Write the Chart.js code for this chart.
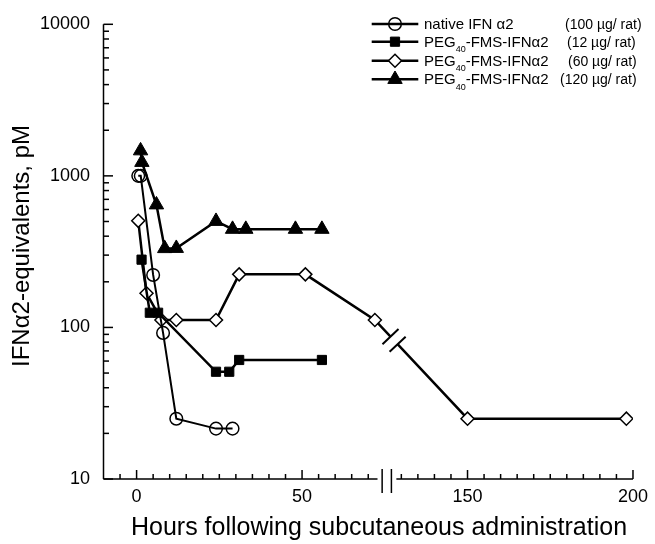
<!DOCTYPE html>
<html><head><meta charset="utf-8">
<script src="https://cdn.jsdelivr.net/npm/chart.js@4.4.1/dist/chart.umd.min.js"></script>
<style>html,body{margin:0;padding:0;background:#fff;}#wrap{width:655px;height:544px;position:relative;}</style>
</head><body><div id="wrap"><canvas id="c"></canvas></div>
<script>
// ---- data (hours are real hours; the axis has a break between 75 h and 125 h) ----
const BREAK_AT = 75, BREAK_SHIFT = 50;
const nativeHours  = [0.5, 1.25, 5, 8, 12, 24, 29];
const nativeValues = [1000, 1000, 222, 92, 25, 21.5, 21.5];
const peg12Hours   = [1.5, 4, 6.5, 24, 28, 31, 56];
const peg12Values  = [280, 125, 125, 51, 51, 61, 61];
const peg60Hours   = [0.5, 3, 7.5, 12, 24, 31, 51, 72, 150, 198];
const peg60Values  = [505, 168, 112, 112, 112, 224, 224, 112, 25, 25];
const peg120Hours  = [1.2, 1.6, 6, 8.5, 12, 24, 29, 33, 48, 56];
const peg120Values = [1466, 1230, 645, 332, 333, 502, 445, 445, 445, 445];
const yTickLabels  = [10, 100, 1000, 10000];
const xTickHours   = [0, 50, 150, 200];
const legendNames  = ['native IFN α2', 'PEG40-FMS-IFNα2', 'PEG40-FMS-IFNα2', 'PEG40-FMS-IFNα2'];
const legendDoses  = ['(100 µg/ rat)', '(12 µg/ rat)', '(60 µg/ rat)', '(120 µg/ rat)'];
const xTitle = 'Hours following subcutaneous administration';
const yTitle = 'IFNα2-equivalents, pM';

function toAxis(h){ return h > BREAK_AT ? h - BREAK_SHIFT : h; }
function mk(hours, values){ return hours.map((h,i)=>({x: toAxis(h), y: values[i]})); }

const FONT = '"Liberation Sans", Arial, Helvetica, sans-serif';
const styles = [
  {pointStyle:'circle', radius:6.3, fill:'rgba(0,0,0,0)', bw:1.5, lw:2},
  {pointStyle:'rect', radius:6.5, fill:'#000', bw:1, lw:2.5},
  {pointStyle:'rectRot', radius:6.5, fill:'#fff', bw:1.5, lw:2.5},
  {pointStyle:'triangle', radius:8.3, fill:'#000', bw:1, lw:2.5}
];
const seriesData = [mk(nativeHours,nativeValues), mk(peg12Hours,peg12Values), mk(peg60Hours,peg60Values), mk(peg120Hours,peg120Values)];

const datasets = seriesData.map((d,i)=>({
  label: legendNames[i] + ' ' + legendDoses[i],
  data: d,
  borderColor:'#000', borderWidth: styles[i].lw,
  pointStyle: styles[i].pointStyle, pointRadius: styles[i].radius,
  pointBackgroundColor: styles[i].fill, pointBorderColor:'#000', pointBorderWidth: styles[i].bw,
  pointHoverRadius: styles[i].radius, tension:0, fill:false
}));

function marker(ctx, style, x, y){
  const r = style.radius;
  ctx.save();
  ctx.fillStyle = style.fill; ctx.strokeStyle = '#000'; ctx.lineWidth = style.bw;
  ctx.beginPath();
  if (style.pointStyle === 'circle') { ctx.arc(x, y, r, 0, Math.PI*2); }
  else if (style.pointStyle === 'rect') { const s = Math.SQRT1_2*r; ctx.rect(x-s, y-s, 2*s, 2*s); }
  else if (style.pointStyle === 'rectRot') { ctx.moveTo(x, y-r); ctx.lineTo(x+r, y); ctx.lineTo(x, y+r); ctx.lineTo(x-r, y); ctx.closePath(); }
  else { ctx.moveTo(x, y-r); ctx.lineTo(x+r*0.866, y+r/2); ctx.lineTo(x-r*0.866, y+r/2); ctx.closePath(); }
  ctx.fill(); ctx.stroke();
  ctx.restore();
}

const decor = {
  id:'decor',
  afterDraw(chart){
    const {ctx, chartArea:a, scales:{x, y}} = chart;
    ctx.save();
    ctx.strokeStyle = '#000'; ctx.fillStyle = '#000'; ctx.lineWidth = 1.5; ctx.lineCap = 'butt';
    // y axis line
    ctx.beginPath(); ctx.moveTo(a.left, a.top); ctx.lineTo(a.left, a.bottom); ctx.stroke();
    // y ticks (inward)
    for (let d = 10; d <= 10000; d *= 10) {
      for (let m = 1; m <= 9; m++) {
        const v = m*d; if (v > 10000) break;
        const py = y.getPixelForValue(v);
        const len = m === 1 ? 9.5 : 5.5;
        ctx.beginPath(); ctx.moveTo(a.left, py); ctx.lineTo(a.left+len, py); ctx.stroke();
      }
    }
    // x axis with break
    const b = a.bottom;
    ctx.beginPath();
    ctx.moveTo(a.left, b); ctx.lineTo(x.getPixelForValue(72.8), b);
    ctx.moveTo(x.getPixelForValue(78.5), b); ctx.lineTo(a.right, b);
    ctx.stroke();
    [74.2, 77.0].forEach(v=>{ const px = x.getPixelForValue(v); ctx.beginPath(); ctx.moveTo(px, b-10); ctx.lineTo(px, b+14); ctx.stroke(); });
    for (let v = -5; v <= 150; v += 5) {
      if (v === 75) continue;
      const px = x.getPixelForValue(v);
      const len = v % 50 === 0 ? 9 : 5;
      ctx.beginPath(); ctx.moveTo(px, b); ctx.lineTo(px, b-len); ctx.stroke();
    }
    // break marks on the 60 µg line
    const meta = chart.getDatasetMeta(2);
    const p1 = meta.data[7], p2 = meta.data[8];
    if (p1 && p2) {
      const cx = x.getPixelForValue(77.8);
      const t = (cx - p1.x)/(p2.x - p1.x);
      const cy = p1.y + t*(p2.y - p1.y);
      let ux = p2.x - p1.x, uy = p2.y - p1.y; const L = Math.hypot(ux, uy); ux/=L; uy/=L;
      const nx = uy, ny = -ux;
      const g = 5.2;
      ctx.fillStyle = '#fff';
      ctx.beginPath();
      ctx.moveTo(cx - ux*g + nx*3, cy - uy*g + ny*3);
      ctx.lineTo(cx + ux*g + nx*3, cy + uy*g + ny*3);
      ctx.lineTo(cx + ux*g - nx*3, cy + uy*g - ny*3);
      ctx.lineTo(cx - ux*g - nx*3, cy - uy*g - ny*3);
      ctx.closePath(); ctx.fill();
      ctx.lineWidth = 2;
      [-g, g].forEach(o=>{
        const mx = cx + ux*o, my = cy + uy*o;
        ctx.beginPath(); ctx.moveTo(mx - nx*11, my - ny*11); ctx.lineTo(mx + nx*11, my + ny*11); ctx.stroke();
      });
    }
    // legend
    const rowsY = [24, 41.7, 60.7, 79.3];
    const doseX = [565, 567, 568, 560];
    ctx.fillStyle = '#000'; ctx.textBaseline = 'alphabetic'; ctx.textAlign = 'left';
    rowsY.forEach((ry,i)=>{
      ctx.lineWidth = 2.5; ctx.strokeStyle = '#000';
      ctx.beginPath(); ctx.moveTo(371.7, ry); ctx.lineTo(418.3, ry); ctx.stroke();
      marker(ctx, styles[i], 395, ry);
      ctx.fillStyle = '#000';
      ctx.font = '15px ' + FONT;
      const name = legendNames[i];
      if (name.indexOf('PEG40') === 0) {
        let tx = 424;
        ctx.fillText('PEG', tx, ry+5); tx += ctx.measureText('PEG').width;
        ctx.font = '9px ' + FONT; ctx.fillText('40', tx, ry+10.5); tx += ctx.measureText('40').width;
        ctx.font = '15px ' + FONT; ctx.fillText(name.slice(5), tx, ry+5);
      } else {
        ctx.fillText(name, 424, ry+5);
      }
      ctx.font = '14px ' + FONT;
      ctx.fillText(legendDoses[i], doseX[i], ry+5);
    });
    // axis titles
    ctx.font = '25px ' + FONT; ctx.textAlign = 'center'; ctx.textBaseline = 'alphabetic';
    ctx.fillText(xTitle, 379, 535);
    ctx.save();
    ctx.translate(28.5, 125); ctx.rotate(-Math.PI/2);
    ctx.font = '24px ' + FONT; ctx.textAlign = 'right';
    ctx.fillText(yTitle, 0, 0);
    ctx.restore();
    ctx.restore();
  }
};

new Chart(document.getElementById('c'), {
  type:'line',
  data:{datasets},
  options:{
    responsive:true, maintainAspectRatio:false, animation:false,
    layout:{padding:{top:21, right:18, left:0, bottom:0}},
    plugins:{legend:{display:false}, tooltip:{enabled:false}},
    scales:{
      x:{
        type:'linear', min:-10, max:150,
        grid:{display:false, drawTicks:false}, border:{display:false},
        afterBuildTicks(s){ s.ticks = xTickHours.map(h=>({value: toAxis(h)})); },
        afterFit(s){ s.height = 65; },
        ticks:{
          padding:7, color:'#000', font:{family:FONT, size:18},
          maxRotation:0, autoSkip:false,
          callback(v){ const h = xTickHours.find(hh=>toAxis(hh)===v); return h === undefined ? '' : String(h); }
        }
      },
      y:{
        type:'logarithmic', min:10, max:10000,
        grid:{display:false, drawTicks:false}, border:{display:false},
        afterBuildTicks(s){ s.ticks = yTickLabels.map(v=>({value:v})); },
        afterFit(s){ s.width = 103.5; },
        ticks:{ padding:13.5, color:'#000', font:{family:FONT, size:18}, autoSkip:false, callback(v){ return String(v); } }
      }
    }
  },
  plugins:[decor]
});
</script>
</body></html>
